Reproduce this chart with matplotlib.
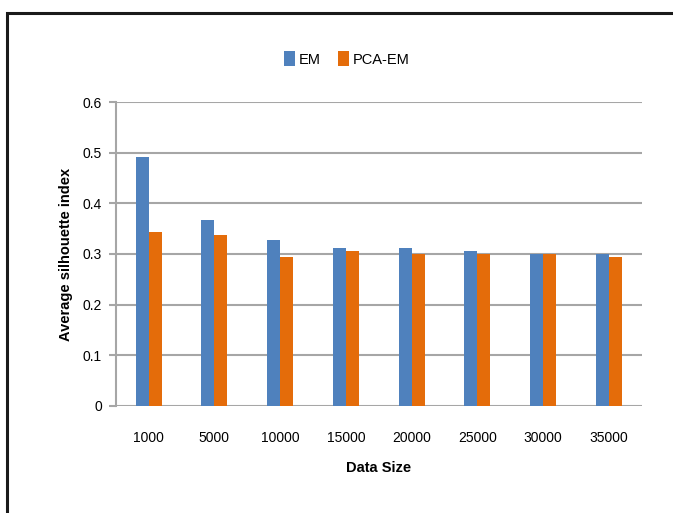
import matplotlib.pyplot as plt
import numpy as np
from matplotlib.patches import Rectangle

sizes = ['1000', '5000', '10000', '15000', '20000', '25000', '30000', '35000']
em = [0.491, 0.368, 0.328, 0.311, 0.311, 0.305, 0.300, 0.299]
pca_em = [0.344, 0.338, 0.295, 0.305, 0.300, 0.300, 0.300, 0.294]

plt.rcParams['font.family'] = ['Liberation Sans', 'DejaVu Sans']

fig = plt.figure(figsize=(6.73, 5.13), dpi=100)
ax = fig.add_axes([0.172, 0.2092, 0.7815, 0.5914])

x = np.arange(len(sizes))
w = 0.198
grid_c = '#a6a6a6'
ax.bar(x - w / 2, em, w, color='#4f81bd', label='EM', zorder=3)
ax.bar(x + w / 2, pca_em, w, color='#e46c0a', label='PCA-EM', zorder=3)

ax.set_xlim(-0.5, len(sizes) - 0.5)
ax.set_ylim(0, 0.6)
ax.set_yticks(np.arange(0, 0.61, 0.1))
ax.set_yticklabels(['0', '0.1', '0.2', '0.3', '0.4', '0.5', '0.6'])
ax.set_xticks(x)
ax.set_xticklabels(sizes)
ax.yaxis.grid(True, color=grid_c, linewidth=1.5, zorder=0)

for s in ['top', 'right', 'bottom']:
    ax.spines[s].set_visible(False)
ax.spines['left'].set_color(grid_c)
ax.spines['left'].set_linewidth(1.5)
ax.tick_params(axis='y', length=5, width=1.5, color=grid_c, labelsize=10, pad=5)
ax.tick_params(axis='x', length=0, labelsize=10, pad=18)

ax.set_xlabel('Data Size', fontsize=10.5, fontweight='bold', labelpad=12)
ax.set_ylabel('Average silhouette index', fontsize=10.5, fontweight='bold', labelpad=7)

ax.legend(loc='center', bbox_to_anchor=(0.44, 1.143), ncol=2, frameon=False,
          fontsize=10.5, handlelength=0.7, handleheight=1.2, handletextpad=0.3,
          columnspacing=1.2)

fig.patches.append(Rectangle((7 / 673, -0.1), 1.2, 0.1 + (513 - 13) / 513,
                             transform=fig.transFigure, fill=False,
                             edgecolor='#1a1a1a', linewidth=2.2))

fig.savefig('out.png', dpi=100)
